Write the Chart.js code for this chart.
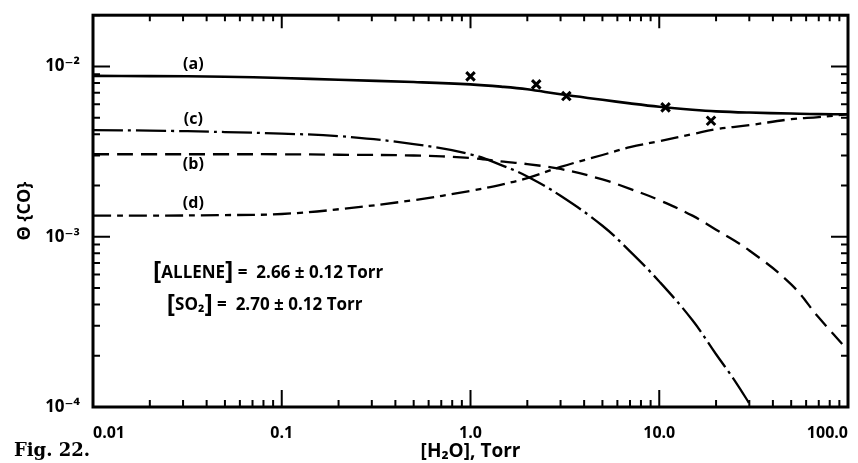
<!DOCTYPE html>
<html><head><meta charset="utf-8">
<script src="https://cdn.jsdelivr.net/npm/chart.js@4.4.1/dist/chart.umd.min.js"></script>
<style>html,body{margin:0;padding:0;background:#fff}</style>
</head><body>
<canvas id="c" width="858" height="463"></canvas>
<script>
// ---- data ----
const xGrid  = [0.01, 0.02, 0.05, 0.1, 0.2, 0.5, 1, 1.5, 2, 3, 5, 7, 10, 15, 20, 30, 50, 70, 100];
const curveA = [8.8e-3, 8.78e-3, 8.7e-3, 8.55e-3, 8.35e-3, 8.1e-3, 7.85e-3, 7.59e-3, 7.34e-3, 6.86e-3, 6.37e-3, 6.07e-3, 5.8e-3, 5.57e-3, 5.45e-3, 5.36e-3, 5.29e-3, 5.25e-3, 5.24e-3];
const curveB = [3.05e-3, 3.05e-3, 3.05e-3, 3.05e-3, 3.03e-3, 3.0e-3, 2.9e-3, 2.76e-3, 2.67e-3, 2.5e-3, 2.17e-3, 1.91e-3, 1.64e-3, 1.33e-3, 1.10e-3, 8.3e-4, 5.25e-4, 3.35e-4, 2.15e-4];
const curveD = [1.33e-3, 1.33e-3, 1.34e-3, 1.36e-3, 1.45e-3, 1.64e-3, 1.86e-3, 2.04e-3, 2.21e-3, 2.57e-3, 3.02e-3, 3.36e-3, 3.64e-3, 4.0e-3, 4.28e-3, 4.52e-3, 4.9e-3, 5.04e-3, 5.24e-3];
const curveCX = [0.01, 0.02, 0.05, 0.1, 0.2, 0.5, 1, 1.5, 2, 3, 5, 7, 10, 15, 20, 25, 31];
const curveC  = [4.23e-3, 4.2e-3, 4.12e-3, 4.03e-3, 3.9e-3, 3.5e-3, 3.05e-3, 2.6e-3, 2.26e-3, 1.74e-3, 1.16e-3, 8.2e-4, 5.46e-4, 3.23e-4, 2.04e-4, 1.44e-4, 9.9e-5];
const markX = [1.0, 2.23, 3.22, 10.8, 18.8];
const markY = [8.75e-3, 7.85e-3, 6.7e-3, 5.75e-3, 4.8e-3];

const xTickValues = [0.01, 0.1, 1, 10, 100];
const xTickLabels = ['0.01', '0.1', '1.0', '10.0', '100.0'];
const yTickValues = [1e-4, 1e-3, 1e-2];
const yTickLabels = ['10\u207B\u2074', '10\u207B\u00B3', '10\u207B\u00B2'];

const curveNames = ['(a)', '(c)', '(b)', '(d)'];
const curveNameX = [0.034, 0.034, 0.034, 0.034];
const curveNameY = [1.03e-2, 4.9e-3, 2.67e-3, 1.56e-3];

const xTitle = '[H\u2082O], Torr';
const yTitle = '\u0398 {CO}';
const figCaption = 'Fig. 22.';

const pts = (xs, ys) => xs.map((x, i) => ({x: x, y: ys[i]}));

const FONT = "'Open Sans', 'DejaVu Sans', sans-serif";

const decor = {
  id: 'decor',
  afterDatasetsDraw(chart) {
    const {ctx, chartArea: {left, right, top, bottom}, scales: {x, y}} = chart;
    ctx.save();
    ctx.strokeStyle = '#000';
    ctx.fillStyle = '#000';
    // frame
    ctx.lineWidth = 3;
    ctx.strokeRect(left, top, right - left, bottom - top);
    // ticks (inward on all four sides)
    ctx.lineWidth = 2;
    ctx.beginPath();
    for (let d = -2; d <= 2; d++) {
      for (let m = 1; m <= 9; m++) {
        const v = m * Math.pow(10, d);
        if (v > 100.0001) break;
        const px = x.getPixelForValue(v);
        const lenB = m === 1 ? 17 : 7, lenT = m === 1 ? 13 : 6;
        ctx.moveTo(px, bottom); ctx.lineTo(px, bottom - lenB);
        ctx.moveTo(px, top); ctx.lineTo(px, top + lenT);
      }
    }
    for (let d = -4; d <= -2; d++) {
      for (let m = 1; m <= 9; m++) {
        const v = m * Math.pow(10, d);
        if (v > 0.0201) break;
        const py = y.getPixelForValue(v);
        const len = m === 1 ? 17 : 7;
        ctx.moveTo(left, py); ctx.lineTo(left + len, py);
        ctx.moveTo(right, py); ctx.lineTo(right - len, py);
      }
    }
    ctx.stroke();

    // curve names
    ctx.font = `bold 16px ${FONT}`;
    ctx.textAlign = 'center';
    ctx.textBaseline = 'middle';
    curveNames.forEach((t, i) => {
      ctx.fillText(t, x.getPixelForValue(curveNameX[i]), y.getPixelForValue(curveNameY[i]));
    });

    // concentration notes
    const drawSegs = (segs, x0, y0) => {
      let cx = x0;
      ctx.textAlign = 'left';
      ctx.textBaseline = 'middle';
      segs.forEach(([t, size, dy]) => {
        ctx.font = `bold ${size}px ${FONT}`;
        ctx.fillText(t, cx, y0 + dy);
        cx += ctx.measureText(t).width;
      });
    };
    drawSegs([['[', 25, -1], ['ALLENE', 17, 0], [']', 25, -1], [' =  2.66 \u00B1 0.12 Torr', 17, 0]],
             x.getPixelForValue(0.0208), y.getPixelForValue(6.15e-4));
    drawSegs([['[', 25, -1], ['SO\u2082', 17, 0], [']', 25, -1], [' =  2.70 \u00B1 0.12 Torr', 17, 0]],
             x.getPixelForValue(0.0246), y.getPixelForValue(3.95e-4));

    // caption
    ctx.font = "bold 18px 'DejaVu Serif', 'Liberation Serif', serif";
    ctx.textAlign = 'left';
    ctx.textBaseline = 'middle';
    ctx.fillText(figCaption, 14, 451);
    ctx.restore();
  }
};

const curveStyle = {showLine: true, pointRadius: 0, borderColor: '#000', borderWidth: 2.3,
                    tension: 0.4, fill: false};

new Chart(document.getElementById('c'), {
  type: 'scatter',
  data: {
    datasets: [
      Object.assign({label: 'a', data: pts(xGrid, curveA)}, curveStyle, {borderWidth: 2.6}),
      Object.assign({label: 'c', data: pts(curveCX, curveC), borderDash: [30, 5, 3, 5]}, curveStyle),
      Object.assign({label: 'b', data: pts(xGrid, curveB), borderDash: [16, 8]}, curveStyle),
      Object.assign({label: 'd', data: pts(xGrid, curveD), borderDash: [18, 6, 6, 6]}, curveStyle),
      {label: 'x', data: pts(markX, markY), showLine: false, pointStyle: 'crossRot',
       pointRadius: 6, pointBorderWidth: 3, borderColor: '#000', backgroundColor: '#000'}
    ]
  },
  options: {
    responsive: false,
    animation: false,
    devicePixelRatio: 1,
    layout: {padding: {left: 0, right: 10, top: 12, bottom: 0}},
    plugins: {legend: {display: false}, tooltip: {enabled: false}},
    scales: {
      x: {
        type: 'logarithmic', min: 0.01, max: 100,
        grid: {display: false}, border: {display: false},
        afterBuildTicks: s => { s.ticks = xTickValues.map(v => ({value: v})); },
        afterFit: s => { s.height = 56; },
        ticks: {
          autoSkip: false, maxRotation: 0, align: 'inner', padding: 9, color: '#000',
          font: {family: FONT, size: 16, weight: 'bold'},
          callback: (v) => { const i = xTickValues.indexOf(v); return i >= 0 ? xTickLabels[i] : ''; }
        },
        title: {display: true, text: xTitle, color: '#000', padding: {top: 0, bottom: 0},
                font: {family: FONT, size: 19, weight: 'bold'}}
      },
      y: {
        type: 'logarithmic', min: 1e-4, max: 0.02,
        grid: {display: false}, border: {display: false},
        afterBuildTicks: s => { s.ticks = yTickValues.map(v => ({value: v})); },
        afterFit: s => { s.width = 93; },
        ticks: {
          autoSkip: false, padding: 5, color: '#000',
          font: {family: FONT, size: 17, weight: 'bold'},
          callback: (v) => { const i = yTickValues.findIndex(t => Math.abs(t - v) / t < 1e-6); return i >= 0 ? yTickLabels[i] : ''; }
        },
        title: {display: true, text: yTitle, color: '#000', padding: {top: 14, bottom: 0},
                font: {family: FONT, size: 18, weight: 'bold'}}
      }
    }
  },
  plugins: [decor]
});
</script>
</body></html>
